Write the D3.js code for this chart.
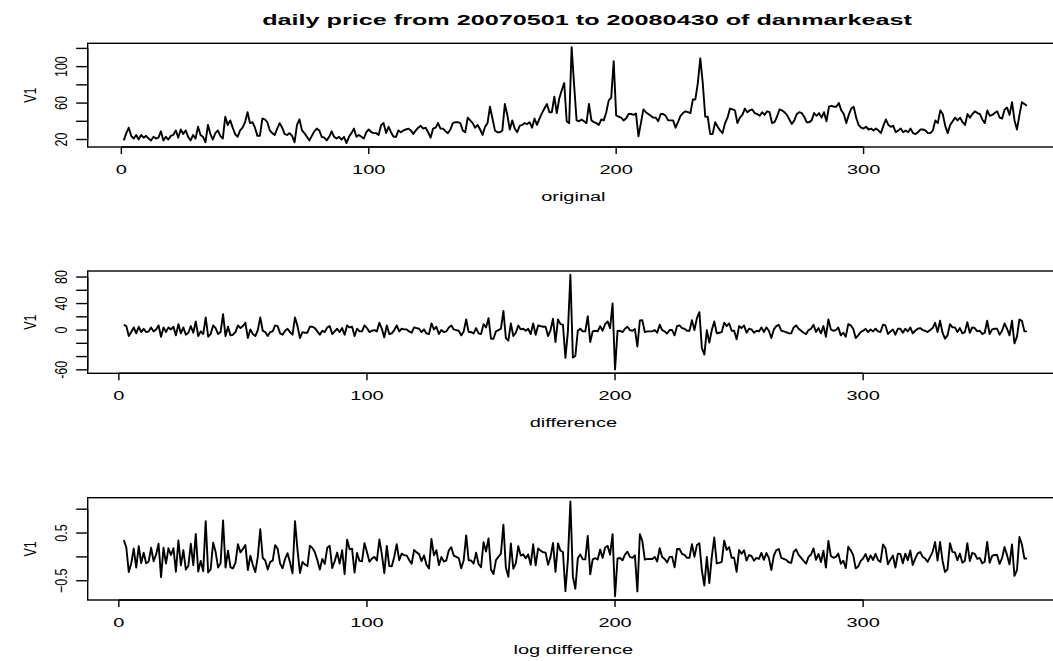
<!DOCTYPE html>
<html>
<head>
<meta charset="utf-8">
<script src="https://cdn.jsdelivr.net/npm/d3@7"></script>
<style>
  html, body { margin: 0; padding: 0; background: #ffffff; }
  svg { display: block; }
</style>
</head>
<body>
<svg id="chart" width="1053" height="661"></svg>
<script>
// Daily price series, 2007-05-01 .. 2008-04-30 (one value per day)
const priceValues = [
  19, 27, 33, 24, 21, 25, 20, 25, 22, 24,
  21, 19, 23, 21, 22, 29, 19, 23, 20, 24,
  25, 30, 22, 31, 26, 30, 23, 19, 25, 21,
  34, 25, 23, 17, 36, 26, 20, 27, 30, 24,
  21, 45, 36, 41, 33, 26, 23, 30, 33, 39,
  50, 38, 39, 33, 24, 24, 43, 42, 39, 30,
  27, 25, 32, 38, 33, 26, 25, 27, 24, 17,
  36, 42, 30, 27, 23, 19, 24, 29, 32, 30,
  23, 22, 19, 23, 29, 23, 21, 23, 20, 23,
  16, 23, 27, 32, 23, 25, 23, 21, 28, 31,
  28, 27, 27, 25, 36, 38, 27, 34, 28, 23,
  23, 30, 28, 30, 31, 32, 30, 26, 30, 33,
  35, 32, 33, 28, 22, 32, 33, 38, 32, 32,
  29, 27, 31, 38, 39, 39, 38, 30, 28, 44,
  41, 38, 33, 36, 31, 25, 34, 38, 56, 43,
  30, 28, 28, 30, 59, 47, 31, 41, 32, 28,
  35, 36, 38, 37, 39, 33, 43, 36, 43, 49,
  54, 59, 50, 50, 67, 49, 65, 74, 82, 40,
  38, 121.4, 80, 41, 40, 42, 40, 38, 59, 41,
  39, 38, 36, 42, 41, 50, 63, 66, 106, 46.5,
  45, 44, 41, 43, 48, 48, 47, 48.6, 23.6, 38,
  53, 50, 48, 46, 44, 44, 40, 48, 48, 46,
  41, 41, 41, 33, 39, 46, 49, 51, 50, 49,
  64, 64, 82, 109, 82, 45, 45, 26, 26, 39,
  34, 30, 27, 38, 44, 54, 53, 52, 38, 44,
  47, 54, 50, 52, 53, 49, 48, 46, 50, 47,
  51, 50, 38, 39, 45, 53, 52, 50, 47, 42,
  37, 41, 48, 50, 49, 45, 39, 39, 41, 49,
  46, 49, 44, 50, 40, 56, 57, 56, 56, 60,
  52, 48, 38, 47, 54, 56, 44, 36, 33, 32,
  34, 31, 32, 30, 32, 30, 27, 35, 42, 36,
  34, 35, 28, 30, 32, 28, 30, 28, 32, 27,
  26, 28, 31, 31, 30, 27, 27, 30, 41, 38,
  52, 48, 35, 27, 36, 40, 44, 41, 44, 39,
  36, 48, 44, 48, 51, 49, 48, 42, 38, 52,
  46, 47, 49, 51, 44, 43, 53, 55, 47, 61,
  41, 31, 47, 61, 59, 57
];

const mainTitle = "daily price from 20070501 to 20080430 of danmarkeast";
const panelNames = ["original", "difference", "log difference"];
const seriesName = "V1";

const xTickValues = [0, 100, 200, 300];
const originalTicks = [20, 40, 60, 80, 100, 120];
const originalLabels = [20, 60, 100];
const differenceTicks = [-60, -40, -20, 0, 20, 40, 60, 80];
const differenceLabels = [80, 40, 0, -60];
const logTicks = [-0.5, 0, 0.5, 1];
const logLabels = [-0.5, 0.5];

// first differences and log differences of the price series (time index 2..n)
const differenceValues = priceValues.slice(1).map((v, i) => v - priceValues[i]);
const logDifferenceValues = priceValues.slice(1).map((v, i) => Math.log(v) - Math.log(priceValues[i]));

const svg = d3.select("#chart");
const plotLeft = 87.7, plotRight = 1063;
const SX = 1.6; // horizontal stretch of the device
const font = "'Liberation Sans', Arial, Helvetica, sans-serif";

// R-style axis extent: data range padded by 4% each side
const pad = ([a, b]) => [a - 0.04 * (b - a), b + 0.04 * (b - a)];

const panels = [
  { values: priceValues, start: 1, top: 43.3, bottom: 147, ticks: originalTicks, labels: originalLabels, fmt: d => String(d) },
  { values: differenceValues, start: 2, top: 271, bottom: 373.3, ticks: differenceTicks, labels: differenceLabels, fmt: d => String(d) },
  { values: logDifferenceValues, start: 2, top: 497.7, bottom: 600, ticks: logTicks, labels: logLabels, fmt: d => d3.format(".1f")(d) }
];

function stretchedText(g, x, y, txt, opts = {}) {
  const t = g.append("g")
    .attr("transform", `translate(${x},${y}) scale(${opts.sx ?? SX},1)` + (opts.rotate ? " rotate(-90)" : ""))
    .append("text")
    .attr("text-anchor", "middle")
    .attr("dominant-baseline", "central")
    .attr("font-family", font)
    .attr("font-size", opts.size ?? 12.5)
    .attr("fill", "#000")
    .text(txt);
  if (opts.bold) t.attr("font-weight", "bold");
  return t;
}

panels.forEach((p, k) => {
  const idx = p.values.map((_, i) => i + p.start);
  const x = d3.scaleLinear().domain(pad(d3.extent(idx))).range([plotLeft, plotRight]);
  const y = d3.scaleLinear().domain(pad(d3.extent(p.values))).range([p.bottom, p.top]);
  const g = svg.append("g");

  // series line
  const line = d3.line().x((d, i) => x(idx[i])).y(d => y(d));
  g.append("path").datum(p.values)
    .attr("d", line)
    .attr("fill", "none")
    .attr("stroke", "#000")
    .attr("stroke-width", 1.9)
    .attr("stroke-linejoin", "round");

  // plot box
  g.append("rect")
    .attr("x", plotLeft).attr("y", p.top)
    .attr("width", plotRight - plotLeft).attr("height", p.bottom - p.top)
    .attr("fill", "none").attr("stroke", "#000").attr("stroke-width", 1.4);

  // x axis: ticks below the box
  xTickValues.forEach(v => {
    g.append("line")
      .attr("x1", x(v)).attr("x2", x(v))
      .attr("y1", p.bottom).attr("y2", p.bottom + 7)
      .attr("stroke", "#000").attr("stroke-width", 1.4);
    stretchedText(g, x(v), p.bottom + 22.5, String(v), { size: 12.5 });
  });
  g.append("line")
    .attr("x1", x(xTickValues[0])).attr("x2", x(xTickValues[xTickValues.length - 1]))
    .attr("y1", p.bottom).attr("y2", p.bottom)
    .attr("stroke", "#000").attr("stroke-width", 1.4);

  // y axis: ticks left of the box, labels along the axis
  p.ticks.forEach(v => {
    g.append("line")
      .attr("x1", plotLeft - 11.5).attr("x2", plotLeft)
      .attr("y1", y(v)).attr("y2", y(v))
      .attr("stroke", "#000").attr("stroke-width", 1.4);
  });
  g.append("line")
    .attr("x1", plotLeft).attr("x2", plotLeft)
    .attr("y1", y(p.ticks[0])).attr("y2", y(p.ticks[p.ticks.length - 1]))
    .attr("stroke", "#000").attr("stroke-width", 1.4);
  p.labels.forEach(v => {
    stretchedText(g, 61.5, y(v), p.fmt(v), { size: 12.5, rotate: true, sx: 1.35 });
  });

  // axis titles
  stretchedText(g, 30, (p.top + p.bottom) / 2, seriesName, { size: 12.5, rotate: true, sx: 1.35 });
  stretchedText(g, (plotLeft + plotRight) / 2 - 2, p.bottom + 49.5, panelNames[k], { size: 12.5 });
});

stretchedText(svg, 587, 20, mainTitle, { size: 14, bold: true, sx: 1.8 });
</script>
</body>
</html>
